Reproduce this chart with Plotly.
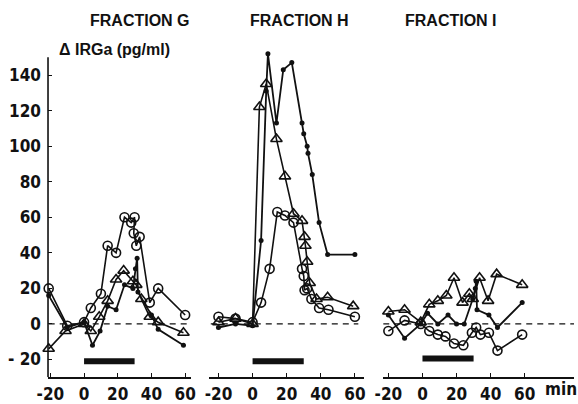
import plotly.graph_objects as go

# ---------------- data ----------------
# Fraction G
g_circ_x = [-21, -10, 0, 4, 10, 14, 19, 24, 28, 30, 29.5, 31, 33, 39, 44, 60]
g_circ_y = [20, -1, 1, 9, 17, 44, 40, 60, 57, 60, 51, 44, 49, 12, 20, 5]
g_tri_x = [-21, -11, 0, 4, 9, 14, 19, 23.5, 29, 31, 34, 39, 44, 59]
g_tri_y = [-14, -4, 0, -4, 4, 13, 25, 30, 24, 22, 14, 4, 1, -5]
g_dot_x = [-21, -10, 0, 5, 9.5, 14, 19, 24, 29, 30.5, 31.5, 32, 40, 44, 59]
g_dot_y = [16, -2, 1, -12, -4, 10, 8, 22, 20, 31, 37, 18, 5, -3, -12]

# Fraction H
h_circ_x = [-20, -10, 0, 5, 10, 14.5, 19, 24, 29, 30, 30.5, 32, 34.5, 39, 44.5, 60]
h_circ_y = [4, 3, 1, 12, 31, 63, 61, 57, 31, 27, 19, 20, 14, 9, 8, 4]
h_tri_x = [-20, -10, 0, 4, 8, 14, 19, 24, 29, 30.5, 31, 32, 33.5, 37.5, 44, 59]
h_tri_y = [1, 3, 0, 122, 135, 104, 83, 62, 58, 49, 44, 35, 23, 14, 15, 10]
h_dot_x = [-20, -10, 0, 5, 8, 9, 14, 18, 23, 29, 30, 32, 32.5, 35, 39, 44, 60]
h_dot_y = [-2, 0, -1, 47, 131, 152, 113, 143, 147, 113, 107, 100, 96, 84, 57, 39, 39]

# Fraction I
i_circ_x = [-20, -10.5, -1, 4, 9, 13.5, 18.5, 24, 29, 31.5, 34, 39, 44, 58.5]
i_circ_y = [-4, 2, 0, -4, -6, -7, -11, -12, -5, -2, -6, -5, -15, -6]
i_tri_x = [-20, -10.5, -1, 4, 9, 14, 18.5, 23.5, 27.5, 29.5, 33.5, 38.5, 43.5, 58.5]
i_tri_y = [7, 8, 1, 11, 13, 16, 26, 12, 17, 14, 26, 13, 28, 22]
i_dot_x = [-20, -10.5, -1, 3, 9, 15, 20, 24.5, 29.5, 31, 31.5, 32, 39, 44, 58.5]
i_dot_y = [5, -8, 0, 6, 0, 5, 0, 0, 14, 20, 24, 8, 5, -2, 12]

# infusion bars (start, end, level) per panel
bar_x = [0, 30]
bar_levels = [-21, -21, -19.5]

panel_titles = ["FRACTION G", "FRACTION H", "FRACTION I"]
x_ticks = [-20, 0, 20, 40, 60]
x_ticktext = ["-20", "0", "20", "40", "60"]
y_ticks = [-20, 0, 20, 40, 60, 80, 100, 120, 140]
y_ticktext = ["- 20", "0", "20", "40", "60", "80", "100", "120", "140"]
y_axis_span = [-30, 150]

# ---------------- figure ----------------
W, H = 578, 404
PXU = 1.8          # pixels per unit on y
Y_BOTTOM_PX = 382  # x-axis position
fig = go.Figure()
BLACK = "#111111"
FONT = "Liberation Sans Narrow, DejaVu Sans Condensed, Arial Narrow, sans-serif"
TFONT = "Liberation Sans, Arial, sans-serif"

panels = [
    ("x", g_circ_x, g_circ_y, g_tri_x, g_tri_y, g_dot_x, g_dot_y, [-21.4, 63.6], [38, 185], [-21, 63]),
    ("x2", h_circ_x, h_circ_y, h_tri_x, h_tri_y, h_dot_x, h_dot_y, [-25.7, 65.1], [203, 362], [-24.5, 62]),
    ("x3", i_circ_x, i_circ_y, i_tri_x, i_tri_y, i_dot_x, i_dot_y, [-23.1, 88.9], [382, 578], [-23, 89]),
]

for k, (xa, cx, cy, tx, ty, dx, dy, xr, dom, zr) in enumerate(panels):
    fig.add_trace(go.Scatter(x=zr, y=[0, 0], xaxis=xa, yaxis="y", mode="lines",
                             line=dict(color=BLACK, width=1.3, dash="6px,5px"),
                             hoverinfo="skip", showlegend=False, cliponaxis=False))
    fig.add_trace(go.Scatter(x=bar_x, y=[bar_levels[k]] * 2, xaxis=xa, yaxis="y", mode="lines",
                             line=dict(color=BLACK, width=6), showlegend=False, cliponaxis=False))
    fig.add_trace(go.Scatter(x=dx, y=dy, xaxis=xa, yaxis="y", mode="lines+markers",
                             line=dict(color=BLACK, width=1.8),
                             marker=dict(symbol="circle", size=5, color=BLACK),
                             showlegend=False, cliponaxis=False))
    fig.add_trace(go.Scatter(x=tx, y=ty, xaxis=xa, yaxis="y", mode="lines+markers",
                             line=dict(color=BLACK, width=1.6),
                             marker=dict(symbol="triangle-up-open", size=10, color=BLACK,
                                         line=dict(width=1.6, color=BLACK)),
                             showlegend=False, cliponaxis=False))
    fig.add_trace(go.Scatter(x=cx, y=cy, xaxis=xa, yaxis="y", mode="lines+markers",
                             line=dict(color=BLACK, width=1.6),
                             marker=dict(symbol="circle-open", size=9, color=BLACK,
                                         line=dict(width=1.6, color=BLACK)),
                             showlegend=False, cliponaxis=False))

tick_font = dict(family=FONT, size=17, color=BLACK, weight="bold")
axis_common = dict(showgrid=False, zeroline=False, showline=True, linecolor=BLACK, linewidth=1.6,
                   ticks="inside", ticklen=4, tickwidth=1.3, tickcolor=BLACK,
                   tickvals=x_ticks, ticktext=x_ticktext, ticklabelstandoff=1,
                   tickfont=tick_font, anchor="y")

layout_axes = {}
for k, p in enumerate(panels):
    xa, xr, dom = p[0], p[7], p[8]
    name = "xaxis" if xa == "x" else "xaxis" + xa[1:]
    layout_axes[name] = dict(axis_common, range=xr, domain=[dom[0] / W, dom[1] / W])

y_range = [-30, 160]
y_top_px = Y_BOTTOM_PX - (y_range[1] - y_range[0]) * PXU

fig.update_layout(
    width=W, height=H,
    margin=dict(l=0, r=0, t=0, b=0),
    paper_bgcolor="white", plot_bgcolor="white",
    yaxis=dict(range=y_range, domain=[1 - Y_BOTTOM_PX / H, 1 - y_top_px / H], anchor="x",
               showgrid=False, zeroline=False, showline=False,
               ticks="inside", ticklen=4, tickwidth=1.3, tickcolor=BLACK,
               tickvals=y_ticks, ticktext=y_ticktext, ticklabelstandoff=6,
               tickfont=tick_font),
    **layout_axes,
)

# vertical y-axis line only up to 150 (as in the original)
fig.add_shape(type="line", xref="x domain", yref="y", x0=0, x1=0,
              y0=y_axis_span[0], y1=y_axis_span[1], line=dict(color=BLACK, width=1.6))

title_pos = [132, 296, 452]
for t, px in zip(panel_titles, title_pos):
    fig.add_annotation(text=t, x=px / W, y=1 - 21 / H, xref="paper", yref="paper",
                       showarrow=False, xanchor="center", yanchor="middle",
                       font=dict(family=TFONT, size=16, color=BLACK, weight="bold"))
fig.add_annotation(text="Δ IRGa (pg/ml)", x=47 / W, y=1 - 50 / H, xref="paper", yref="paper",
                   showarrow=False, xanchor="left", yanchor="middle",
                   font=dict(family=TFONT, size=16, color=BLACK, weight="bold"))
fig.add_annotation(text="min", x=565 / W, y=1 - 394 / H, xref="paper", yref="paper",
                   showarrow=False, xanchor="center", yanchor="middle",
                   font=dict(family=FONT, size=17, color=BLACK, weight="bold"))

fig.write_html("out.html")
